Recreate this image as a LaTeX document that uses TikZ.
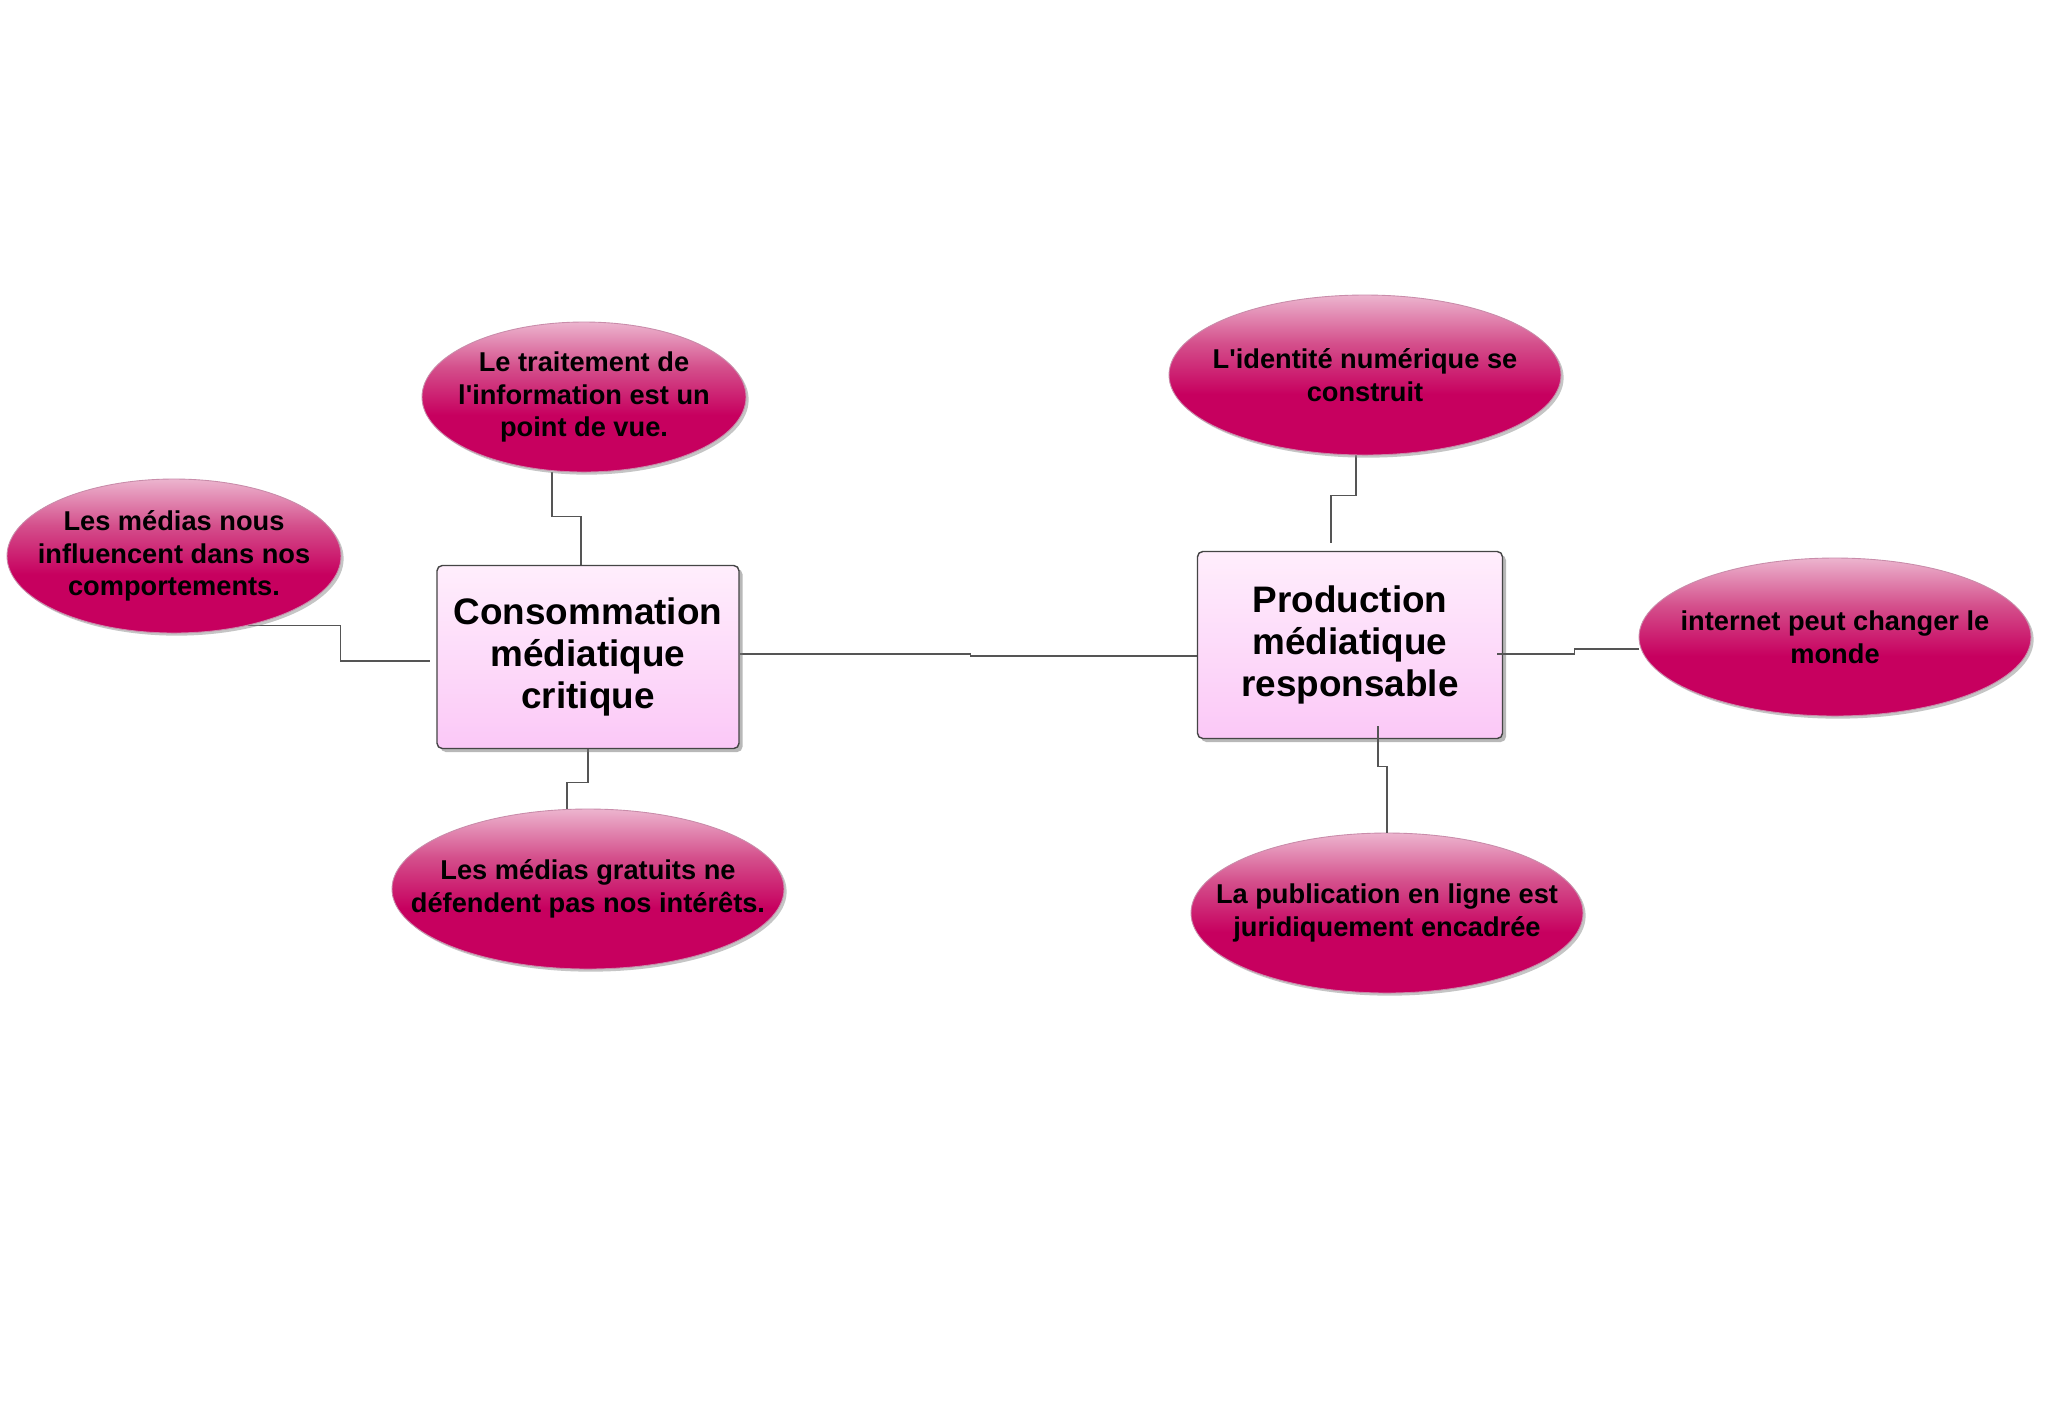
\documentclass[tikz,border=0pt]{standalone}
\usepackage{fontspec}
\setmainfont{Liberation Sans}
\usetikzlibrary{shapes.geometric, shadows, backgrounds}
\definecolor{BubbleLight}{HTML}{ECB4CE}
\definecolor{BubbleMid}{HTML}{D4508C}
\definecolor{BubbleDeep}{HTML}{C7005F}
\definecolor{BubbleEdge}{HTML}{C98CAA}
\definecolor{CardTop}{HTML}{FFEEFC}
\definecolor{CardBottom}{HTML}{FBC8F7}
\definecolor{CardEdge}{HTML}{454545}
\definecolor{LinkGray}{HTML}{555555}
\newlength\px
\setlength\px{0.02cm}
\pgfdeclareverticalshading{bubbleshade}{100bp}{color(0bp)=(BubbleDeep); color(25bp)=(BubbleDeep); color(44bp)=(BubbleDeep); color(60bp)=(BubbleMid); color(75bp)=(BubbleLight); color(100bp)=(BubbleLight)}
\tikzset{
  bubble/.style={ellipse, draw=BubbleEdge, line width=0.5pt, shading=bubbleshade,
                drop shadow={shadow xshift=1.5pt, shadow yshift=-1.5pt, fill=black!45, opacity=0.5}},
  bubbletext/.style={align=center, inner sep=0pt, font=\bfseries\fontsize{15.5}{18.5}\selectfont},
  topicbox/.style={rectangle, rounded corners=3pt, draw=CardEdge, line width=0.8pt,
                top color=CardTop, bottom color=CardBottom,
                drop shadow={shadow xshift=2pt, shadow yshift=-2pt, fill=black!55, opacity=0.5},
                align=center, font=\bfseries\fontsize{21}{24}\selectfont},
  link/.style={LinkGray, line width=0.75pt},
}
\begin{document}
\begin{tikzpicture}[x=0.02cm, y=-0.02cm]
    % Coordinate map (pixels, y down):
    % (conso) at (588, 657)  -- 302 x 183 -- "Consommation mediatique critique"
    % (prod)  at (1350, 645) -- 305 x 187 -- "Production mediatique responsable"
    % bubbles: 392 x 160 unless said otherwise
    \useasboundingbox (0,0) rectangle (2048,1418);

    \node[topicbox, minimum width=302\px, minimum height=183\px] (conso) at (588,657) {Consommation\\médiatique\\critique};
    \node[topicbox, minimum width=305\px, minimum height=187\px] (prod) at (1350,645) {Production\\médiatique\\responsable};

    \node[bubble, minimum width=324\px, minimum height=150\px] (traitement) at (584,397) {};
    \node[bubbletext] (traitement-txt) at (traitement) {Le traitement de\\l\textquotesingle information est un\\point de vue.};
    \node[bubble, minimum width=334\px, minimum height=154\px] (influence) at (174,556) {};
    \node[bubbletext] (influence-txt) at (influence) {Les médias nous\\influencent dans nos\\comportements.};
    \node[bubble, minimum width=392\px, minimum height=160\px] (gratuits) at (588,889) {};
    \node[bubbletext] (gratuits-txt) at (gratuits) {Les médias gratuits ne\\défendent pas nos intérêts.};

    \node[bubble, minimum width=392\px, minimum height=160\px] (identite) at (1365,375) {};
    \node[bubbletext] (identite-txt) at (identite) {L\textquotesingle identité numérique se\\construit};
    \node[bubble, minimum width=392\px, minimum height=158\px] (internet) at (1835,637) {};
    \node[bubbletext] (internet-txt) at (internet) {internet peut changer le\\monde};
    \node[bubble, minimum width=392\px, minimum height=160\px] (publication) at (1387,913) {};
    \node[bubbletext] (publication-txt) at (publication) {La publication en ligne est\\juridiquement encadrée};

    \begin{scope}[on background layer]
    \fill[white] (0,0) rectangle (2048,1418);
    \draw[link] ([xshift=-32\px]traitement.south) -- ++(0,44) -| ([xshift=-7\px]conso.north);
    \draw[link] (influence.-43) -- ++(92,0) |- ([xshift=-6\px, yshift=-4\px]conso.west);
    \draw[link] (conso.south) -- ++(0,33) -| ([xshift=-21\px]gratuits.north);
    \draw[link] ([yshift=3\px]conso.east) -- ++(231,0) |- ([yshift=-11\px]prod.west);
    \draw[link] ([xshift=-9\px]identite.south) -- ++(0,40) -| ([xshift=-19\px, yshift=8\px]prod.north);
    \end{scope}
    % these two start inside the box
    \draw[link] ([xshift=-6\px, yshift=-9\px]prod.east) -- ++(77,0) |- ([yshift=-12\px]internet.west);
    \draw[link] ([xshift=28\px, yshift=13\px]prod.south) -- ++(0,40) -| (publication.north);
\end{tikzpicture}
\end{document}
